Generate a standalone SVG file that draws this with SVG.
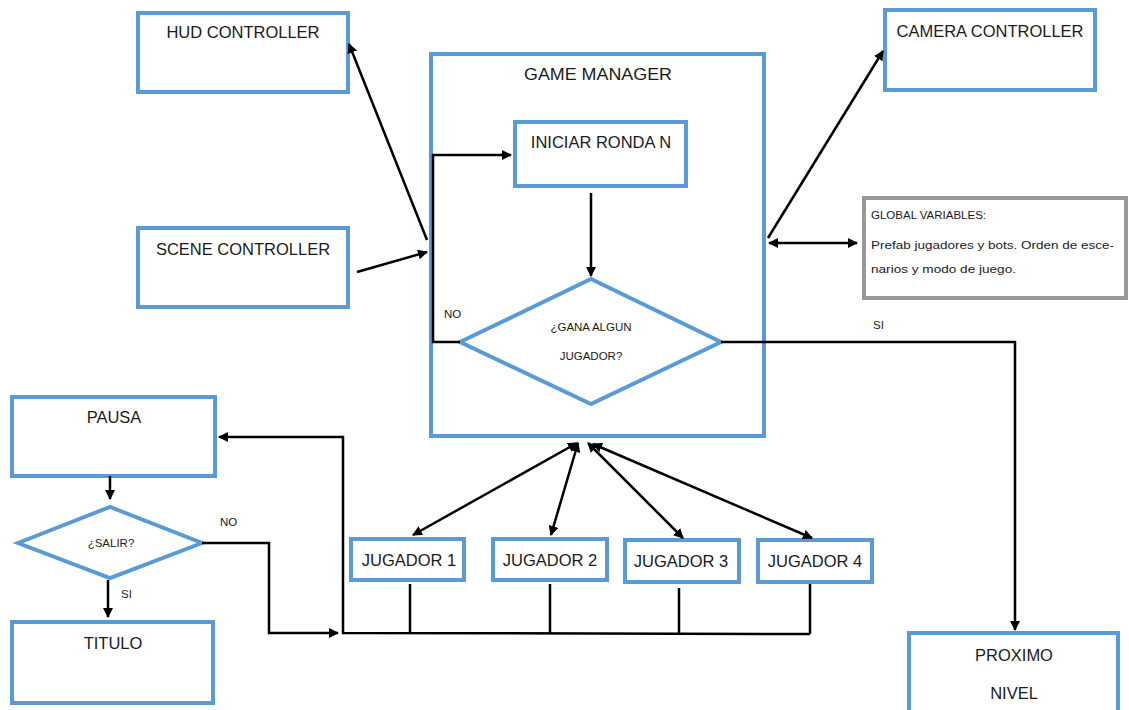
<svg xmlns="http://www.w3.org/2000/svg" width="1129" height="710" viewBox="0 0 1129 710">
<style>
.box{fill:#fff;stroke:#5B9BD5;stroke-width:4}
.gbox{fill:#fff;stroke:#999;stroke-width:4}
.t{font-family:"Liberation Sans",Arial,sans-serif;font-size:16.5px;fill:#1a1a1a;text-anchor:middle}
.s{font-family:"Liberation Sans",Arial,sans-serif;font-size:11.5px;fill:#1a1a1a}
.c{fill:none;stroke:#000;stroke-width:2.5}
</style>
<defs>
<marker id="ah" viewBox="0 0 10 10" refX="9" refY="5" markerWidth="4" markerHeight="4" orient="auto-start-reverse" markerUnits="strokeWidth">
<path d="M0,0 L10,5 L0,10 z" fill="#000"/>
</marker>
</defs>
<rect width="1129" height="710" fill="#fff"/>
<g id="game-manager">
<rect class="box" x="431" y="54" width="333" height="382"/>
<text class="t" x="598" y="80" textLength="148" lengthAdjust="spacingAndGlyphs">GAME MANAGER</text>
</g>
<g id="hud-controller">
<rect class="box" x="138" y="13" width="210" height="79"/>
<text class="t" x="243" y="38">HUD CONTROLLER</text>
</g>
<g id="scene-controller">
<rect class="box" x="138" y="228" width="210" height="79"/>
<text class="t" x="243" y="255">SCENE CONTROLLER</text>
</g>
<g id="camera-controller">
<rect class="box" x="885" y="10" width="210" height="80"/>
<text class="t" x="990" y="37">CAMERA CONTROLLER</text>
</g>
<g id="global-variables">
<rect class="gbox" x="864" y="198" width="262" height="100"/>
<text class="s" x="871" y="219">GLOBAL VARIABLES:</text>
<text class="s" x="871" y="249" textLength="243" lengthAdjust="spacingAndGlyphs">Prefab jugadores y bots. Orden de esce-</text>
<text class="s" x="871" y="273" textLength="145" lengthAdjust="spacingAndGlyphs">narios y modo de juego.</text>
</g>
<g id="iniciar-ronda">
<rect class="box" x="515" y="122" width="171" height="64"/>
<text class="t" x="601" y="148">INICIAR RONDA N</text>
</g>
<g id="gana-algun-jugador">
<polygon class="box" points="460,342 591,279 721,342 591,404"/>
<text class="s" x="591" y="331" text-anchor="middle" font-size="11.5">¿GANA ALGUN</text>
<text class="s" x="591" y="360" text-anchor="middle" font-size="11.5">JUGADOR?</text>
</g>
<g id="pausa">
<rect class="box" x="12" y="397" width="203" height="79"/>
<text class="t" x="114" y="423">PAUSA</text>
</g>
<g id="salir">
<polygon class="box" points="18,543 110,507 202,543 110,578"/>
<text class="s" x="111" y="547" text-anchor="middle" font-size="11.5">¿SALIR?</text>
</g>
<g id="titulo">
<rect class="box" x="12" y="622" width="201" height="81"/>
<text class="t" x="113" y="649">TITULO</text>
</g>
<g id="jugador-1">
<rect class="box" x="351" y="539" width="113" height="41"/>
<text class="t" x="409" y="566">JUGADOR 1</text>
</g>
<g id="jugador-2">
<rect class="box" x="493" y="539" width="114" height="41"/>
<text class="t" x="550" y="566">JUGADOR 2</text>
</g>
<g id="jugador-3">
<rect class="box" x="625" y="540" width="114" height="42"/>
<text class="t" x="681" y="567">JUGADOR 3</text>
</g>
<g id="jugador-4">
<rect class="box" x="758" y="540" width="114" height="42"/>
<text class="t" x="815" y="567">JUGADOR 4</text>
</g>
<g id="proximo-nivel">
<rect class="box" x="909" y="633" width="209" height="90"/>
<text class="t" x="1014" y="661">PROXIMO</text>
<text class="t" x="1014" y="699">NIVEL</text>
</g>
<g id="connectors">
<line class="c" x1="427" y1="240" x2="349" y2="44" marker-end="url(#ah)"/>
<line class="c" x1="357" y1="272" x2="427" y2="252" marker-end="url(#ah)"/>
<line class="c" x1="768" y1="238" x2="883" y2="51" marker-end="url(#ah)"/>
<line class="c" x1="769" y1="243" x2="857" y2="243" marker-start="url(#ah)" marker-end="url(#ah)"/>
<polyline class="c" points="460,342 433,342 433,155 511,155" marker-end="url(#ah)"/>
<line class="c" x1="591" y1="193" x2="591" y2="276" marker-end="url(#ah)"/>
<polyline class="c" points="721,342 1015,342 1015,630" marker-end="url(#ah)"/>
<line class="c" x1="577" y1="443" x2="413" y2="535" marker-start="url(#ah)" marker-end="url(#ah)"/>
<line class="c" x1="578" y1="443" x2="551" y2="535" marker-start="url(#ah)" marker-end="url(#ah)"/>
<line class="c" x1="588" y1="443" x2="683" y2="538" marker-start="url(#ah)" marker-end="url(#ah)"/>
<line class="c" x1="593" y1="444" x2="812" y2="538" marker-start="url(#ah)" marker-end="url(#ah)"/>
<line class="c" x1="410" y1="584" x2="410" y2="633"/>
<line class="c" x1="550" y1="584" x2="550" y2="633"/>
<line class="c" x1="679" y1="588" x2="679" y2="634"/>
<line class="c" x1="810" y1="584" x2="810" y2="634"/>
<polyline class="c" points="810,634 343,633 343,437 219,437" marker-end="url(#ah)"/>
<polyline class="c" points="202,543 269,543 269,633 338,633" marker-end="url(#ah)"/>
<line class="c" x1="110" y1="476" x2="110" y2="499" marker-end="url(#ah)"/>
<line class="c" x1="108" y1="580" x2="108" y2="617" marker-end="url(#ah)"/>
</g>
<g id="labels">
<text class="s" x="444" y="318" font-size="11">NO</text>
<text class="s" x="873" y="329" font-size="11">SI</text>
<text class="s" x="220" y="526" font-size="11">NO</text>
<text class="s" x="121" y="598" font-size="11">SI</text>
</g>
</svg>
